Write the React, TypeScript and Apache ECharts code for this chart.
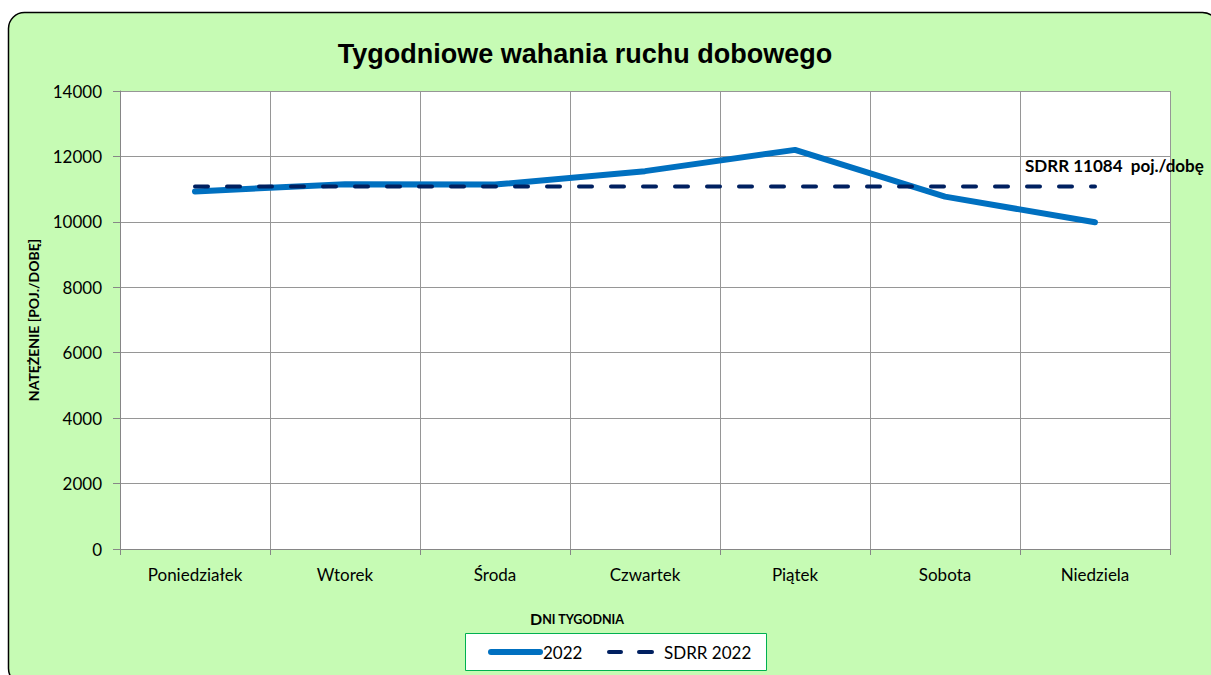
import React, { useEffect, useRef } from "react";
import * as echarts from "echarts";

const categories = ["Poniedziałek", "Wtorek", "Środa", "Czwartek", "Piątek", "Sobota", "Niedziela"];
const values2022 = [10930, 11150, 11140, 11550, 12200, 10770, 9990];
const sdrrValue = 11084;
const sdrr2022 = [sdrrValue, sdrrValue, sdrrValue, sdrrValue, sdrrValue, sdrrValue, sdrrValue];
const yTicks = { min: 0, max: 14000, interval: 2000 };
const seriesNames = ["2022", "SDRR 2022"];
const titleText = "Tygodniowe wahania ruchu dobowego";
const sdrrLabel = `SDRR ${sdrrValue}  poj./dobę`;

const FONT = "Lato, 'Noto Sans', sans-serif";
const BLUE = "#0070C0";
const NAVY = "#002060";

export default function App() {
  const ref = useRef<HTMLDivElement>(null);
  useEffect(() => {
    if (!ref.current) return;
    const chart = echarts.init(ref.current, null, { renderer: "svg" });
    chart.setOption({
      animation: false,
      backgroundColor: "#ffffff",
      graphic: [
        {
          type: "rect",
          z: -10,
          silent: true,
          shape: { x: 8.5, y: 12.5, width: 1210, height: 672, r: 16 },
          style: { fill: "#C6FBB4", stroke: "#000000", lineWidth: 1.5 },
        },
        {
          type: "text",
          left: 1025,
          top: 157,
          z: 10,
          style: { text: sdrrLabel, font: `bold 17px ${FONT}`, fill: "#000000" },
        },
        {
          type: "text",
          left: 530,
          top: 610,
          z: 10,
          style: {
            text: "{a|D}{b|NI TYGODNIA}",
            rich: {
              a: { font: `bold 16px ${FONT}`, fill: "#000", verticalAlign: "bottom" },
              b: { font: `bold 12.5px ${FONT}`, fill: "#000", verticalAlign: "bottom" },
            },
          },
        },
        // legend
        {
          type: "group",
          left: 465,
          top: 633,
          z: 20,
          children: [
            { type: "rect", shape: { x: 0.5, y: 0.5, width: 301, height: 37 }, style: { fill: "#ffffff", stroke: "#00B050", lineWidth: 1 } },
            { type: "line", shape: { x1: 26, y1: 19, x2: 75, y2: 19 }, style: { stroke: BLUE, lineWidth: 6, lineCap: "round" } },
            { type: "text", x: 78, y: 19, style: { text: seriesNames[0], font: `17px ${FONT}`, fill: "#000", verticalAlign: "middle" } },
            { type: "line", shape: { x1: 144, y1: 19, x2: 156, y2: 19 }, style: { stroke: NAVY, lineWidth: 4, lineCap: "round" } },
            { type: "line", shape: { x1: 174, y1: 19, x2: 187, y2: 19 }, style: { stroke: NAVY, lineWidth: 4, lineCap: "round" } },
            { type: "text", x: 199, y: 19, style: { text: seriesNames[1], font: `17px ${FONT}`, fill: "#000", verticalAlign: "middle" } },
          ],
        },
      ],
      title: {
        text: titleText,
        left: 580,
        textAlign: "center",
        top: 35,
        textStyle: { fontFamily: "'Liberation Sans', Arial, sans-serif", fontSize: 27, fontWeight: "bold", color: "#000" },
      },
      grid: { left: 120, right: 41, top: 91, bottom: 126, backgroundColor: "#ffffff", show: true, borderWidth: 0 },
      legend: { show: false, data: seriesNames },
      xAxis: {
        type: "category",
        data: categories,
        boundaryGap: true,
        axisLine: { lineStyle: { color: "#868686", width: 1 } },
        axisTick: { show: true, length: 6, lineStyle: { color: "#868686" } },
        splitLine: { show: true, lineStyle: { color: "#969696", width: 1 } },
        axisLabel: { fontFamily: FONT, fontSize: 17, color: "#000", margin: 17 },
      },
      yAxis: {
        type: "value",
        min: yTicks.min,
        max: yTicks.max,
        interval: yTicks.interval,
        name: "NATĘŻENIE [POJ./DOBĘ]",
        nameLocation: "middle",
        nameGap: 80,
        nameRotate: 90,
        nameTextStyle: { fontFamily: FONT, fontSize: 14, fontWeight: "bold", color: "#000" },
        axisLine: { show: true, lineStyle: { color: "#868686", width: 1 } },
        axisTick: { show: true, length: 7, lineStyle: { color: "#868686" } },
        splitLine: { show: true, lineStyle: { color: "#969696", width: 1 } },
        axisLabel: { fontFamily: FONT, fontSize: 17, color: "#000", margin: 18, formatter: (v: number) => String(v) },
      },
      series: [
        {
          name: seriesNames[0],
          type: "line",
          data: values2022,
          smooth: false,
          symbol: "none",
          itemStyle: { color: BLUE },
          lineStyle: { color: BLUE, width: 6, cap: "round", join: "round" },
          z: 3,
        },
        {
          name: seriesNames[1],
          type: "line",
          data: sdrr2022,
          symbol: "none",
          itemStyle: { color: NAVY },
          lineStyle: { color: NAVY, width: 4, type: [13, 19], cap: "round" },
          z: 4,
        },
      ],
    });
    return () => chart.dispose();
  }, []);
  return <div ref={ref} style={{ position: "fixed", left: 0, top: 0, width: 1211, height: 675 }} />;
}
